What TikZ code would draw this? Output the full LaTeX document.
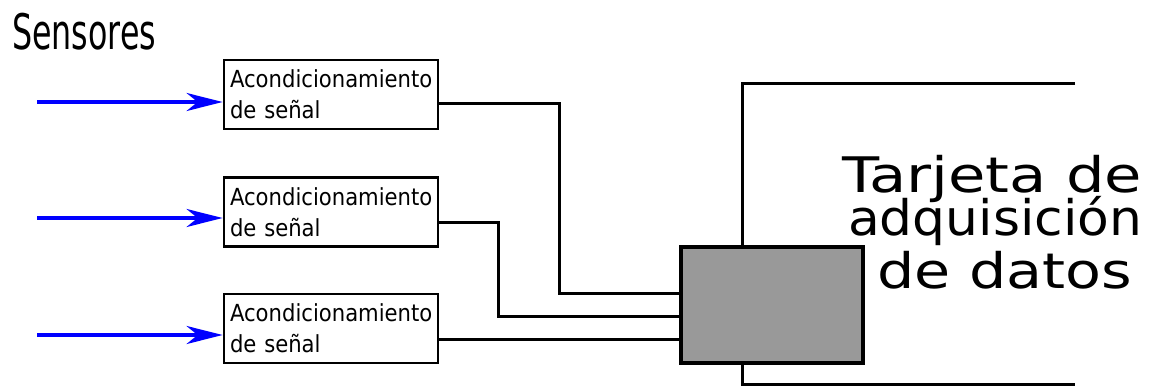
\documentclass[tikz,border=0pt]{standalone}
\usepackage{fontspec}
\setmainfont{DejaVu Sans}
\newfontfamily\condfont[FakeStretch=0.9]{DejaVu Sans}
\usepackage{graphicx}
\usetikzlibrary{arrows.meta,calc}
\tikzset{
  cond/.style={draw=black,line width=2.8pt,rectangle,minimum width=214pt,minimum height=69pt,
    text width=202pt,align=left,inner xsep=5pt,inner ysep=0pt,
    font=\condfont\fontsize{23.5}{31}\selectfont},
  wire/.style={draw=black,line width=3pt},
  sig/.style={draw={rgb,255:red,0;green,0;blue,255},line width=3.5pt,
    -{Stealth[length=36pt,width=18pt,inset=11pt,fill={rgb,255:red,0;green,0;blue,255}]}},
  daqbox/.style={draw=black,line width=3.2pt,fill={rgb,255:red,153;green,153;blue,153},
    rectangle,minimum width=182pt,minimum height=116pt,inner sep=0pt},
  big/.style={inner sep=0pt,anchor=base,font=\fontsize{49}{49}\selectfont}
}
\begin{document}
\begin{tikzpicture}[x=1pt,y=-1pt]
\useasboundingbox (0,0) rectangle (1153,386);
\node[inner sep=0pt,anchor=base west,font=\fontsize{49}{49}\selectfont] (sens) at (12,49) {\resizebox{144pt}{\height}{Sensores}};

\node[cond] (b1) at (331,94.5) {Acondicionamiento\\de señal};
\node[cond] (b2) at (331,212) {Acondicionamiento\\de señal};
\node[cond] (b3) at (331,328.5) {Acondicionamiento\\de señal};

\coordinate (s1) at (37,102);
\coordinate (s2) at (37,218);
\coordinate (s3) at (37,335);
\draw[sig] (s1) -- (s1 -| b1.west);
\draw[sig] (s2) -- (s2 -| b2.west);
\draw[sig] (s3) -- (s3 -| b3.west);

\node[daqbox] (daq) at (772,305) {};

\coordinate (v1) at (559,293);
\coordinate (v2) at (498,316);
\draw[wire] ([yshift=-8.5pt]b1.east) -| (v1) -- (v1 -| daq.west);
\draw[wire] ([yshift=-10pt]b2.east) -| (v2) -- (v2 -| daq.west);
\draw[wire] ([yshift=-10.5pt]b3.east) -- ([yshift=-10.5pt]b3.east -| daq.west);

\coordinate (ctop) at (1075,83);
\coordinate (cbot) at (1075,384);
\draw[wire] (ctop) -| ([xshift=-30pt]daq.north);
\draw[wire] ([xshift=-30pt]daq.south) |- (cbot);

\node[big] (t1) at (992,192) {\resizebox{300pt}{\height}{Tarjeta de}};
\node[big] (t2) at (995,235) {\resizebox{294pt}{\height}{adquisición}};
\node[big] (t3) at (1004.5,288) {\resizebox{255pt}{\height}{de datos}};
\end{tikzpicture}
\end{document}
